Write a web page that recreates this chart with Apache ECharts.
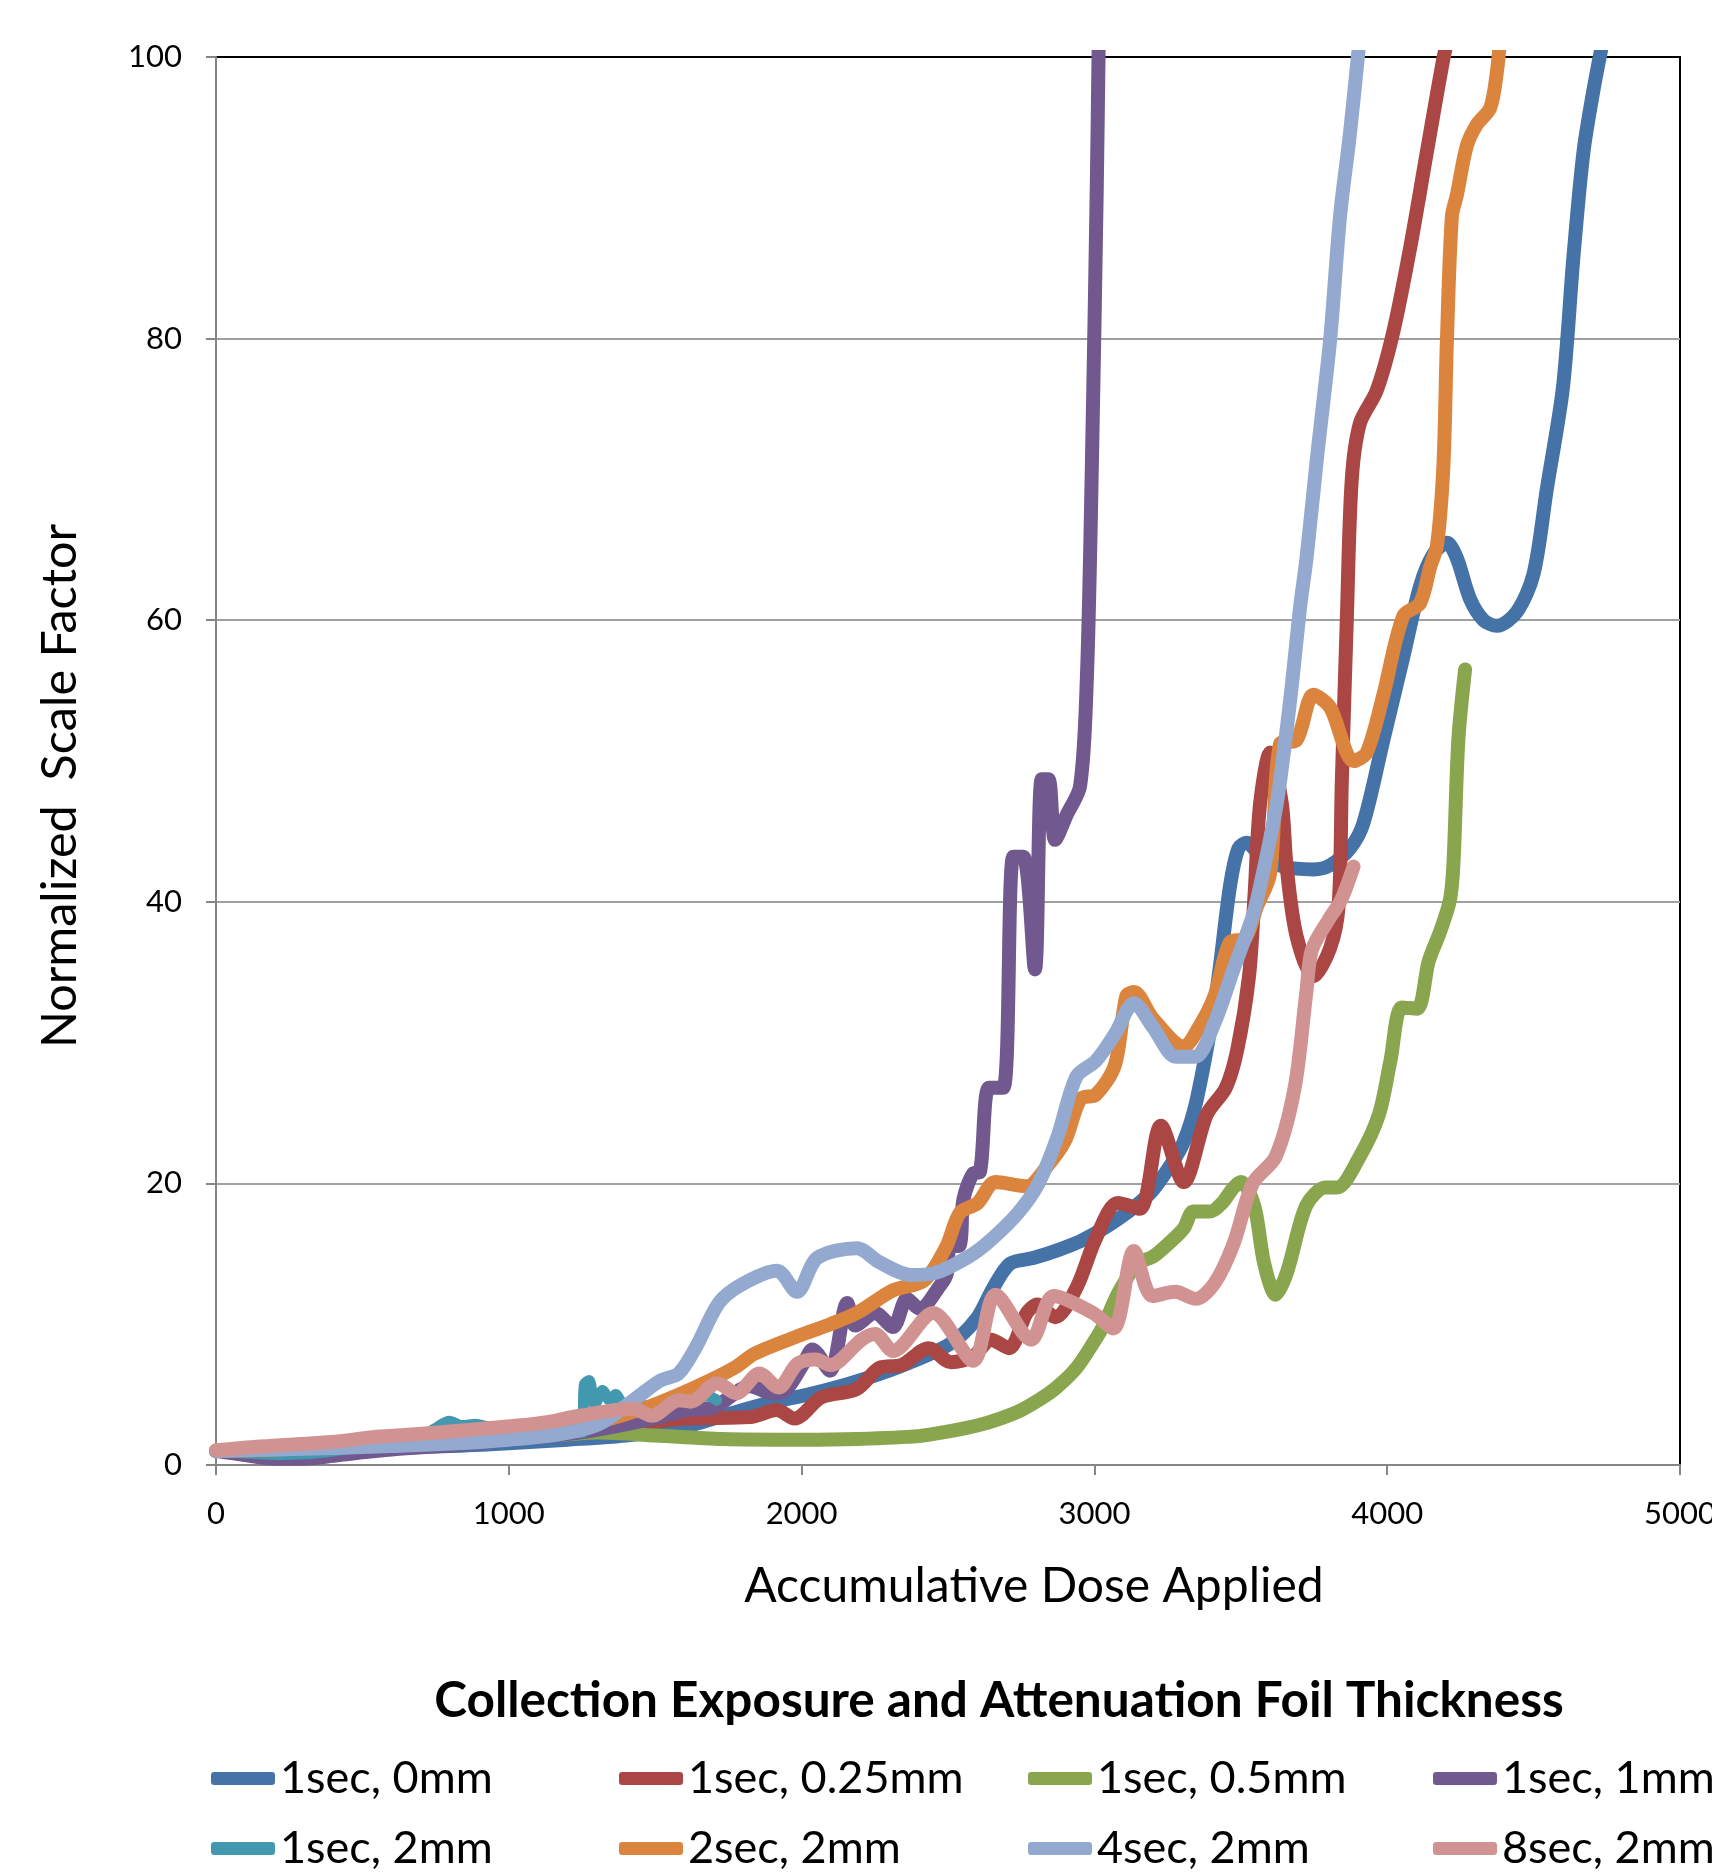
<!DOCTYPE html>
<html><head><meta charset="utf-8">
<script src="https://cdn.jsdelivr.net/npm/echarts@6/dist/echarts.min.js"></script>
<style>html,body{margin:0;padding:0;background:#fff}#c{width:1712px;height:1873px}</style>
</head><body><div id="c"></div>
<script>
// ---- data (x = Accumulative Dose Applied, y = Normalized Scale Factor) ----
const seriesNames = ["1sec, 0mm","1sec, 0.25mm","1sec, 0.5mm","1sec, 1mm","1sec, 2mm","2sec, 2mm","4sec, 2mm","8sec, 2mm"];
const seriesColors = ["#4572A7","#AA4643","#89A54E","#71588F","#4198AF","#DB843D","#93A9CF","#D19392"];
const xTickValues = [0,1000,2000,3000,4000,5000];
const yTickValues = [0,20,40,60,80,100];

const s1sec0mm = [[0,1.0],[200,1.05],[400,1.15],[600,1.25],[800,1.35],[1000,1.55],[1200,1.8],[1400,2.1],[1580,2.6],[1750,3.6],[1885,4.4],[2000,4.9],[2165,5.8],[2336,7.0],[2507,8.6],[2598,10.4],[2655,12.6],[2712,14.3],[2791,14.7],[2880,15.3],[2962,16.0],[3076,17.4],[3190,19.3],[3260,21.3],[3304,22.9],[3350,26.0],[3418,33.8],[3463,41.1],[3492,43.8],[3520,44.2],[3566,43.3],[3646,42.5],[3748,42.3],[3805,42.6],[3873,43.8],[3919,45.6],[3987,51.5],[4055,57.4],[4112,62.4],[4158,64.7],[4204,65.5],[4238,64.4],[4283,61.5],[4329,60.0],[4375,59.6],[4443,60.6],[4500,63.3],[4545,69.3],[4600,76.5],[4636,85.8],[4670,93.2],[4704,97.6],[4740,101.5]];
const s1sec025mm = [[0,1.0],[200,1.05],[400,1.2],[600,1.4],[800,1.6],[1000,1.9],[1200,2.3],[1381,2.8],[1610,3.3],[1824,3.4],[1915,3.9],[1976,3.3],[2067,4.8],[2189,5.4],[2266,6.9],[2342,7.1],[2434,8.3],[2510,7.3],[2586,7.7],[2647,8.9],[2708,8.3],[2769,10.8],[2805,11.4],[2866,10.5],[2939,12.6],[3005,16.1],[3080,18.6],[3155,18.2],[3227,24.1],[3305,20.1],[3384,24.9],[3449,26.8],[3488,29.5],[3528,34.7],[3547,40.5],[3566,47.0],[3600,50.6],[3640,47.0],[3656,42.6],[3690,37.6],[3748,34.7],[3805,36.7],[3834,39.7],[3845,48.5],[3862,60.0],[3879,70.0],[3907,74.0],[3964,76.3],[4021,80.5],[4078,86.4],[4135,93.2],[4192,99.9],[4210,101.5]];
const s1sec05mm = [[0,1.0],[200,1.15],[400,1.3],[600,1.5],[800,1.7],[1000,1.95],[1175,2.15],[1307,2.3],[1500,2.1],[1731,1.85],[2000,1.8],[2189,1.85],[2400,2.05],[2507,2.4],[2600,2.8],[2678,3.3],[2750,3.9],[2809,4.6],[2870,5.5],[2939,6.9],[2997,8.7],[3031,9.9],[3076,12.0],[3109,13.2],[3145,14.3],[3200,14.8],[3257,15.8],[3305,16.8],[3338,18.0],[3395,18.0],[3436,18.6],[3475,19.7],[3501,20.1],[3546,18.4],[3580,14.3],[3619,12.1],[3658,13.7],[3723,18.4],[3789,19.7],[3828,19.7],[3906,21.9],[3972,24.9],[4011,28.7],[4050,32.5],[4102,32.4],[4142,35.8],[4181,37.9],[4214,40.1],[4226,42.6],[4243,51.5],[4266,56.5]];
const s1sec1mm = [[0,1.0],[100,0.7],[200,0.45],[300,0.45],[400,0.65],[500,0.9],[600,1.1],[800,1.4],[1000,1.8],[1200,2.2],[1300,2.5],[1472,3.2],[1610,3.9],[1701,4.1],[1824,5.6],[1899,5.1],[1945,5.3],[2006,7.2],[2037,8.2],[2097,6.7],[2156,11.5],[2183,9.9],[2251,10.8],[2312,9.8],[2360,11.8],[2403,11.1],[2475,12.8],[2496,13.6],[2507,15.5],[2540,15.6],[2552,18.8],[2586,20.7],[2609,20.8],[2640,26.8],[2689,26.8],[2723,43.2],[2757,43.2],[2797,35.2],[2820,48.7],[2843,48.7],[2866,44.4],[2906,46.2],[2951,48.2],[2974,55.7],[2991,70.6],[3008,90.6],[3015,101.5]];
const s1sec2mm = [[0,1.0],[100,0.85],[200,0.75],[300,0.8],[400,1.0],[500,1.3],[600,1.6],[700,2.0],[750,2.6],[797,3.1],[840,2.8],[888,2.9],[930,2.7],[966,2.7],[1050,2.4],[1150,2.3],[1250,2.3],[1258,5.7],[1274,6.0],[1294,4.3],[1320,5.3],[1345,4.6],[1365,5.0],[1392,4.3],[1420,4.5],[1460,4.2],[1520,4.3],[1580,4.6],[1640,4.8],[1680,4.9],[1710,4.6]];
const s2sec2mm = [[0,1.0],[200,1.1],[400,1.3],[600,1.6],[800,1.9],[1000,2.2],[1200,2.6],[1350,3.3],[1472,4.1],[1580,5.0],[1686,6.0],[1778,7.0],[1839,7.9],[2006,9.3],[2098,10.0],[2189,10.8],[2312,12.4],[2418,13.1],[2494,15.5],[2540,17.9],[2601,18.6],[2662,20.1],[2769,19.8],[2834,21.1],[2899,23.0],[2953,26.0],[3005,26.3],[3070,28.4],[3109,33.3],[3135,33.6],[3200,31.7],[3305,29.7],[3357,31.1],[3410,33.3],[3462,37.1],[3515,37.4],[3554,39.6],[3600,42.0],[3634,51.2],[3691,51.5],[3748,54.7],[3805,53.8],[3885,50.0],[3930,50.6],[3987,54.7],[4055,60.3],[4112,61.2],[4147,63.8],[4170,65.3],[4192,71.0],[4204,79.9],[4221,88.7],[4238,90.2],[4272,93.7],[4306,95.2],[4352,96.4],[4375,99.0],[4386,101.5]];
const s4sec2mm = [[0,1.0],[200,1.1],[400,1.2],[600,1.35],[784,1.5],[1000,1.8],[1176,2.2],[1307,2.9],[1438,4.8],[1518,6.0],[1580,6.5],[1640,8.4],[1717,11.5],[1793,12.8],[1916,13.8],[1984,12.3],[2053,14.7],[2189,15.4],[2266,14.4],[2373,13.5],[2449,13.6],[2571,14.8],[2647,16.0],[2739,17.9],[2809,20.0],[2874,23.3],[2939,27.6],[3005,28.7],[3070,30.6],[3135,32.8],[3200,31.1],[3279,29.0],[3344,29.0],[3410,31.4],[3475,35.2],[3541,39.0],[3566,41.1],[3623,47.0],[3669,54.4],[3703,61.0],[3725,64.5],[3760,71.5],[3805,79.9],[3839,88.7],[3873,94.6],[3907,101.5]];
const s8sec2mm = [[0,1.05],[130,1.28],[392,1.63],[548,2.0],[692,2.2],[849,2.47],[1032,2.8],[1137,3.06],[1241,3.5],[1424,4.0],[1489,3.5],[1581,4.6],[1620,4.5],[1712,5.8],[1777,5.1],[1856,6.5],[1921,5.5],[1986,7.2],[2049,7.5],[2098,7.1],[2205,8.9],[2251,9.3],[2312,8.1],[2449,10.8],[2586,7.4],[2662,12.1],[2784,8.9],[2861,12.0],[2995,10.8],[3065,9.7],[3135,15.2],[3198,12.0],[3276,12.3],[3346,11.8],[3410,12.9],[3475,15.7],[3541,20.0],[3619,21.9],[3684,26.8],[3724,33.6],[3743,36.6],[3802,38.8],[3842,40.1],[3885,42.5]];

const seriesData = [s1sec0mm,s1sec025mm,s1sec05mm,s1sec1mm,s1sec2mm,s2sec2mm,s4sec2mm,s8sec2mm];

// ---- layout ----
const FONT = "Lato, 'Open Sans', sans-serif";
const legendCols = [211, 619, 1028, 1433];
const legendRows = [1781, 1851];

const chart = echarts.init(document.getElementById('c'), null, {renderer:'canvas'});
const option = {
  backgroundColor:'#fff',
  animation:false,
  grid:{left:216, top:57, width:1464, height:1408, show:true, borderColor:'#000', borderWidth:2,
    backgroundColor:'transparent', containLabel:false, outerBoundsMode:'none'},
  xAxis:{type:'value', min:0, max:5000, interval:1000,
    axisLine:{show:true, lineStyle:{color:'#868686', width:2}},
    axisTick:{show:true, length:10, lineStyle:{color:'#868686', width:2}},
    axisLabel:{color:'#000', fontSize:31, fontFamily:FONT, margin:33, hideOverlap:false,
      formatter:v=> xTickValues.includes(v) ? String(v) : ''},
    splitLine:{show:false}},
  yAxis:{type:'value', min:0, max:100, interval:20,
    axisLine:{show:true, lineStyle:{color:'#868686', width:2}},
    axisTick:{show:true, length:10, lineStyle:{color:'#868686', width:2}},
    axisLabel:{color:'#000', fontSize:31, fontFamily:FONT, margin:34,
      formatter:v=> yTickValues.includes(v) ? String(v) : ''},
    splitLine:{show:true, showMaxLine:false, showMinLine:false, lineStyle:{color:'#a0a0a0', width:2}}},
  legend: seriesNames.map((n,i)=>({
    data:[n], left:legendCols[i%4], top:legendRows[Math.floor(i/4)]-25, padding:0,
    itemWidth:64, itemHeight:13, icon:'roundRect', selectedMode:false,
    textStyle:{fontSize:45, fontFamily:FONT, color:'#000'}
  })),
  graphic:[
    {type:'text', x:1034, y:1587, style:{text:'Accumulative Dose Applied', fill:'#000', fontSize:48, fontFamily:FONT, textAlign:'center', textVerticalAlign:'middle', align:'center', verticalAlign:'middle'}},
    {type:'text', x:60, y:786, rotation:Math.PI/2, style:{text:'Normalized  Scale Factor', fill:'#000', fontSize:48.5, fontFamily:FONT, textAlign:'center', textVerticalAlign:'middle', align:'center', verticalAlign:'middle'}},
    {type:'text', x:999, y:1701, style:{text:'Collection Exposure and Attenuation Foil Thickness', fill:'#000', fontSize:49.5, fontWeight:'bold', fontFamily:FONT, textAlign:'center', textVerticalAlign:'middle', align:'center', verticalAlign:'middle'}}
  ],
  series: seriesNames.map((n,i)=>({
    name:n, type:'line', data:seriesData[i], showSymbol:false, symbol:'none',
    smooth:0.3, clip:true, color:seriesColors[i],
    lineStyle:{color:seriesColors[i], width: i===4 ? 11 : 14, cap:'round', join:'round'},
    itemStyle:{color:seriesColors[i]},
    z: 2+i
  }))
};
chart.setOption(option);
</script></body></html>
